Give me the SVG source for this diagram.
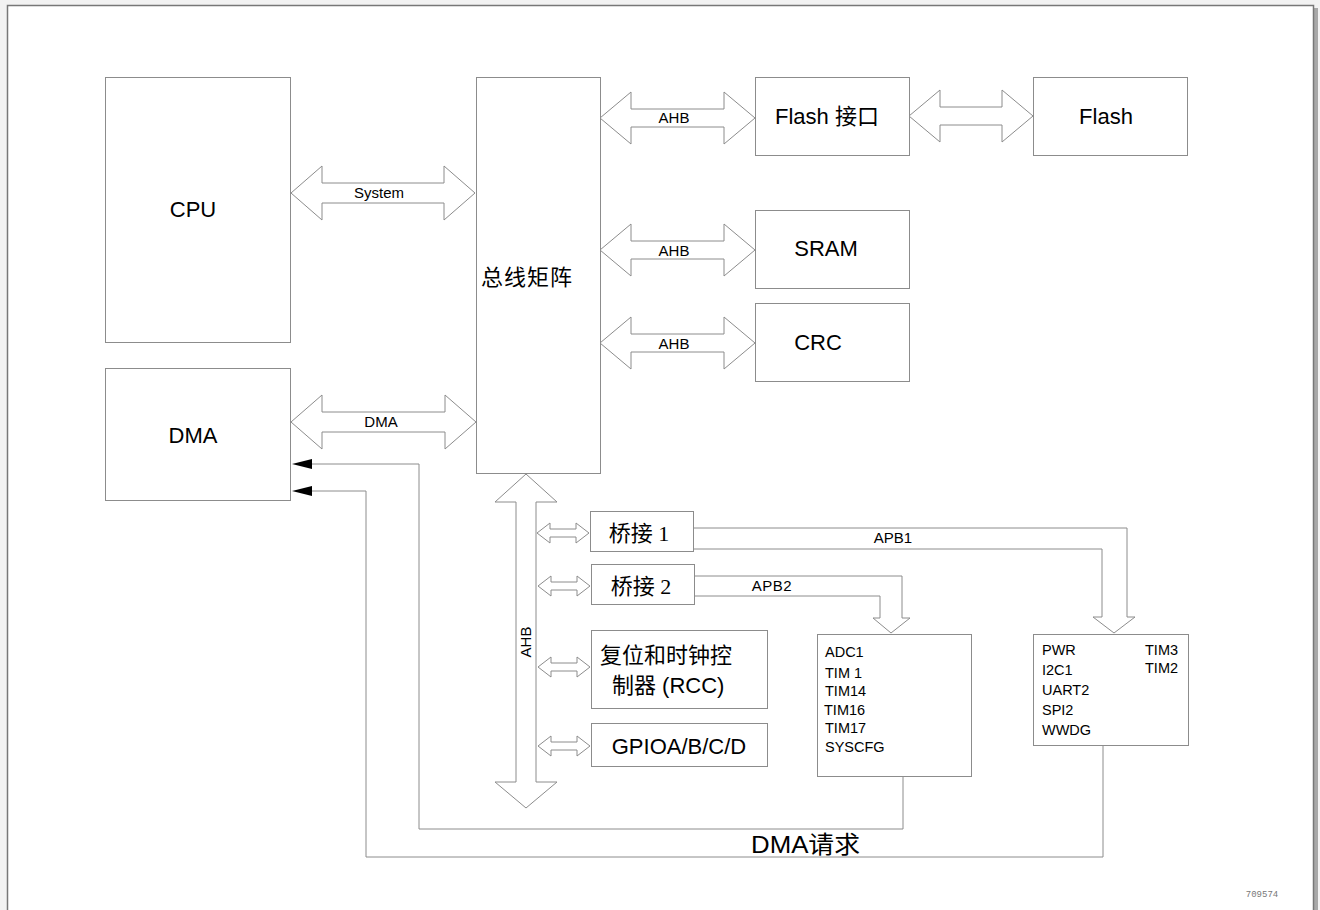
<svg xmlns="http://www.w3.org/2000/svg" width="1320" height="910" viewBox="0 0 1320 910">
<defs>
<style>
.box{fill:#fff;stroke:#8c8c8c;stroke-width:1}
.arr{fill:#fff;stroke:#8c8c8c;stroke-width:1}
.ln{fill:none;stroke:#8c8c8c;stroke-width:1}
.t{font-family:"Liberation Sans","Noto Sans CJK SC",sans-serif;fill:#000}
.big{font-size:22px}
.sm{font-size:15px}
.pe{font-size:14.5px}
.ser{font-family:"Liberation Serif","Noto Sans CJK SC",serif;font-size:22px;fill:#000}
</style>
</defs>
<rect x="0" y="0" width="1320" height="910" fill="#f2f2f2"/>
<rect x="10" y="8" width="1308" height="910" fill="#a8a8a8"/>
<rect x="7.5" y="5.5" width="1306" height="910" fill="#fff" stroke="#777" stroke-width="1.5"/>

<g id="connectors">
<path class="arr" d="M291,193 L322,166 L322,183 L444,183 L444,166 L475,193 L444,220 L444,203 L322,203 L322,220 Z"/>
<path class="arr" d="M291,422 L322,395 L322,412 L445,412 L445,395 L476,422 L445,449 L445,432 L322,432 L322,449 Z"/>
<path class="arr" d="M600,118 L631,92 L631,109 L724,109 L724,92 L755,118 L724,144 L724,127 L631,127 L631,144 Z"/>
<path class="arr" d="M600,250 L631,224 L631,241 L724,241 L724,224 L755,250 L724,276 L724,259 L631,259 L631,276 Z"/>
<path class="arr" d="M600,343 L631,317 L631,334 L724,334 L724,317 L755,343 L724,369 L724,352 L631,352 L631,369 Z"/>
<path class="arr" d="M909,116 L940,90 L940,107 L1002,107 L1002,90 L1033,116 L1002,142 L1002,125 L940,125 L940,142 Z"/>
<path class="arr" d="M526,474 L557,502 L536,502 L536,782 L557,782 L526,808 L495,782 L516,782 L516,502 L495,502 Z"/>
<path class="arr" d="M537,533 L550,523 L550,529 L576,529 L576,523 L589,533 L576,543 L576,537 L550,537 L550,543 Z"/>
<path class="arr" d="M538,586 L551,576 L551,582 L577,582 L577,576 L590,586 L577,596 L577,590 L551,590 L551,596 Z"/>
<path class="arr" d="M538,667 L551,657 L551,663 L577,663 L577,657 L590,667 L577,677 L577,671 L551,671 L551,677 Z"/>
<path class="arr" d="M538,746 L551,736 L551,742 L577,742 L577,736 L590,746 L577,756 L577,750 L551,750 L551,756 Z"/>
<path class="arr" d="M693,528 H1127 V617 H1135 L1114,633 L1093,617 H1102 V549 H693"/>
<path class="arr" d="M694,576 H902 V618 H910 L891,633 L873,618 H880 V596 H694"/>
<path class="ln" d="M903,776 V829 H419 V464 H312"/>
<path class="ln" d="M1103,746 V857 H366 V491 H312"/>
<path d="M292,464 L312,459 L312,469 Z" fill="#000"/>
<path d="M292,491 L312,486 L312,496 Z" fill="#000"/>
<text class="t sm" x="379" y="198" text-anchor="middle">System</text>
<text class="t sm" x="381" y="427" text-anchor="middle">DMA</text>
<text class="t sm" x="674" y="123" text-anchor="middle">AHB</text>
<text class="t sm" x="674" y="256" text-anchor="middle">AHB</text>
<text class="t sm" x="674" y="349" text-anchor="middle">AHB</text>
<text class="t sm" x="893" y="543" text-anchor="middle">APB1</text>
<text class="t sm" x="772" y="591" text-anchor="middle" letter-spacing="0.5">APB2</text>
<text class="t sm" transform="translate(531,642) rotate(-90)" text-anchor="middle">AHB</text>
<text class="t" x="751" y="853" font-size="24" textLength="109" lengthAdjust="spacingAndGlyphs">DMA请求</text>
</g>

<g id="cpu"><rect class="box" x="105.5" y="77.5" width="185" height="265"/><text class="t big" x="193" y="217" text-anchor="middle">CPU</text></g>
<g id="dma"><rect class="box" x="105.5" y="368.5" width="185" height="132"/><text class="t big" x="193" y="443" text-anchor="middle">DMA</text></g>
<g id="busmatrix"><rect class="box" x="476.5" y="77.5" width="124" height="396"/><text class="t" x="527" y="285" font-size="22" letter-spacing="1" text-anchor="middle">总线矩阵</text></g>
<g id="flashif"><rect class="box" x="755.5" y="77.5" width="154" height="78"/><text class="t big" x="827" y="124" text-anchor="middle">Flash 接口</text></g>
<g id="flash"><rect class="box" x="1033.5" y="77.5" width="154" height="78"/><text class="t big" x="1106" y="124" text-anchor="middle">Flash</text></g>
<g id="sram"><rect class="box" x="755.5" y="210.5" width="154" height="78"/><text class="t big" x="826" y="256" text-anchor="middle">SRAM</text></g>
<g id="crc"><rect class="box" x="755.5" y="303.5" width="154" height="78"/><text class="t big" x="818" y="350" text-anchor="middle">CRC</text></g>
<g id="bridge1"><rect class="box" x="590.5" y="511.5" width="103" height="40"/><text class="ser" x="639" y="541" text-anchor="middle">桥接 1</text></g>
<g id="bridge2"><rect class="box" x="591.5" y="564.5" width="103" height="40"/><text class="ser" x="641" y="594" text-anchor="middle">桥接 2</text></g>
<g id="rcc"><rect class="box" x="591.5" y="630.5" width="176" height="78"/><text class="t big" x="600" y="663">复位和时钟控</text><text class="t big" x="612" y="693">制器 (RCC)</text></g>
<g id="gpio"><rect class="box" x="591.5" y="723.5" width="176" height="43"/><text class="t big" x="679" y="754" text-anchor="middle">GPIOA/B/C/D</text></g>
<g id="apb2periph"><rect class="box" x="817.5" y="634.5" width="154" height="142"/>
<text class="t pe"><tspan x="825" y="657">ADC1</tspan><tspan x="825" y="678">TIM 1</tspan><tspan x="825" y="696">TIM14</tspan><tspan x="824" y="715">TIM16</tspan><tspan x="825" y="733">TIM17</tspan><tspan x="825" y="752">SYSCFG</tspan></text></g>
<g id="apb1periph"><rect class="box" x="1033.5" y="634.5" width="155" height="111"/>
<text class="t pe"><tspan x="1042" y="655">PWR</tspan><tspan x="1042" y="675">I2C1</tspan><tspan x="1042" y="695">UART2</tspan><tspan x="1042" y="715">SPI2</tspan><tspan x="1042" y="735">WWDG</tspan><tspan x="1145" y="655">TIM3</tspan><tspan x="1145" y="673">TIM2</tspan></text></g>
<text x="1262" y="897" font-family="Liberation Mono, monospace" font-size="9" fill="#777" text-anchor="middle">709574</text>
</svg>
